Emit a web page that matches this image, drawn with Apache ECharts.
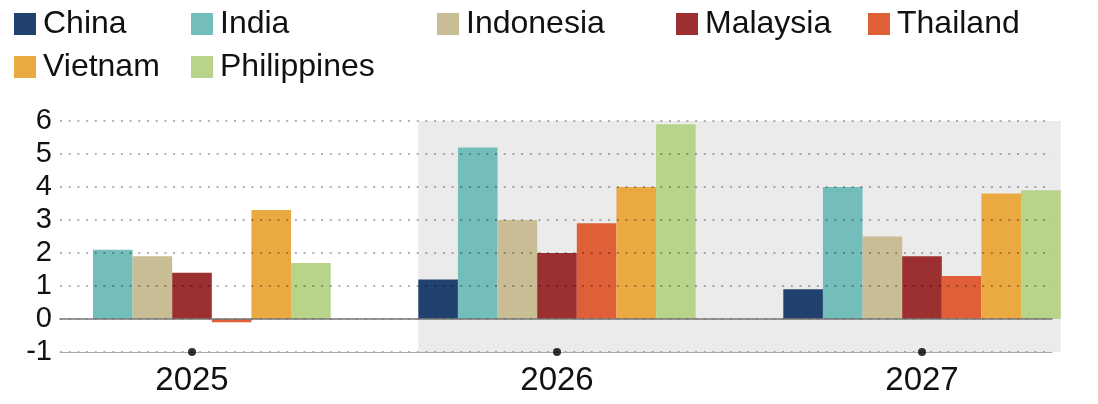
<!DOCTYPE html>
<html>
<head>
<meta charset="utf-8">
<script src="https://cdn.jsdelivr.net/npm/echarts@6/dist/echarts.min.js"></script>
<style>
  html, body { margin: 0; padding: 0; background: #fff; }
  #chart { width: 1098px; height: 404px; }
</style>
</head>
<body>
<div id="chart"></div>
<script>
const years = ['2025', '2026', '2027'];
const forecastYears = ['2026', '2027'];

const china = [null, 1.2, 0.9];
const india = [2.1, 5.2, 4.0];
const indonesia = [1.9, 3.0, 2.5];
const malaysia = [1.4, 2.0, 1.9];
const thailand = [-0.1, 2.9, 1.3];
const vietnam = [3.3, 4.0, 3.8];
const philippines = [1.7, 5.9, 3.9];

const Y_MIN = -1;
const Y_MAX = 6;
const GAP = 0.24; // barCategoryGap

const FONT = '"Liberation Sans", Arial, sans-serif';

const countries = [
  { name: 'China', data: china, color: '#21426f' },
  { name: 'India', data: india, color: '#73bdba' },
  { name: 'Indonesia', data: indonesia, color: '#c8bd95' },
  { name: 'Malaysia', data: malaysia, color: '#9c2f30' },
  { name: 'Thailand', data: thailand, color: '#df6037' },
  { name: 'Vietnam', data: vietnam, color: '#eba941' },
  { name: 'Philippines', data: philippines, color: '#b7d48a' }
];

const chart = echarts.init(document.getElementById('chart'));

const legendBase = {
  orient: 'vertical',
  icon: 'rect',
  itemWidth: 22,
  itemHeight: 22,
  itemGap: 11,
  top: 8,
  padding: 0,
  selectedMode: false,
  textStyle: { fontFamily: FONT, fontSize: 32, color: '#111', lineHeight: 32, padding: [0, 0, 0, 2] }
};

const legendCols = [
  { left: 14, data: ['China', 'Vietnam'] },
  { left: 191, data: ['India', 'Philippines'] },
  { left: 437, data: ['Indonesia'] },
  { left: 676, data: ['Malaysia'] },
  { left: 868, data: ['Thailand'] }
];

const option = {
  animation: false,
  textStyle: { fontFamily: FONT },
  legend: legendCols.map(c => Object.assign({}, legendBase, c)),
  grid: [
    // visible axes
    { left: 60, width: 992, top: 121, height: 231, outerBoundsMode: 'none' },
    // bars
    { left: 9.5, width: 1095, top: 121, height: 231, outerBoundsMode: 'none' }
  ],
  xAxis: [
    {
      gridIndex: 0, type: 'category', data: years, position: 'bottom',
      axisLine: { onZero: false, lineStyle: { color: '#aaa', width: 1 } },
      axisTick: { show: false }, axisLabel: { show: false }, z: 3
    },
    {
      gridIndex: 0, type: 'category', data: years, position: 'bottom',
      axisLine: { onZero: true, lineStyle: { color: '#777', width: 1.5 } },
      axisTick: { show: false }, axisLabel: { show: false }, z: 3
    },
    {
      gridIndex: 1, type: 'category', data: years,
      axisLine: { show: false }, axisTick: { show: false },
      axisLabel: { fontFamily: FONT, fontSize: 33, color: '#111', margin: 12 }
    }
  ],
  yAxis: [
    {
      gridIndex: 0, type: 'value', min: Y_MIN, max: Y_MAX, interval: 1,
      axisLine: { show: false }, axisTick: { show: false },
      axisLabel: { fontFamily: FONT, fontSize: 29, color: '#111', margin: 8 },
      splitLine: { lineStyle: { color: 'rgba(0,0,0,0.3)', width: 2, type: [2, 6.7] } },
      z: 3
    },
    {
      gridIndex: 1, type: 'value', min: Y_MIN, max: Y_MAX, interval: 1, show: false,
      splitLine: { show: false }
    }
  ],
  series: [
    {
      type: 'custom',
      name: 'forecast',
      xAxisIndex: 2,
      yAxisIndex: 1,
      z: 1,
      silent: true,
      encode: { x: [0, 1] },
      data: [[forecastYears[0], forecastYears[forecastYears.length - 1]]],
      renderItem: function (params, api) {
        const first = api.coord([api.value(0), Y_MAX]);
        const last = api.coord([api.value(1), Y_MIN]);
        const band = api.size([1, 0])[0];
        const half = band * (1 - GAP) / 2;
        const l = first[0] - half;
        const r = last[0] + half;
        return {
          type: 'rect',
          shape: { x: l, y: first[1], width: r - l, height: last[1] - first[1] },
          style: { fill: '#ebebeb' }
        };
      }
    },
    ...countries.map(c => ({
      type: 'bar',
      name: c.name,
      xAxisIndex: 2,
      yAxisIndex: 1,
      data: c.data,
      barGap: '0%',
      barCategoryGap: (GAP * 100) + '%',
      itemStyle: { color: c.color },
      z: 2
    })),
    {
      type: 'scatter',
      name: 'ticks',
      xAxisIndex: 2,
      yAxisIndex: 1,
      symbol: 'circle',
      symbolSize: 8,
      clip: false,
      silent: true,
      itemStyle: { color: '#000' },
      data: years.map(y => [y, Y_MIN]),
      z: 5
    }
  ]
};

chart.setOption(option);
</script>
</body>
</html>
